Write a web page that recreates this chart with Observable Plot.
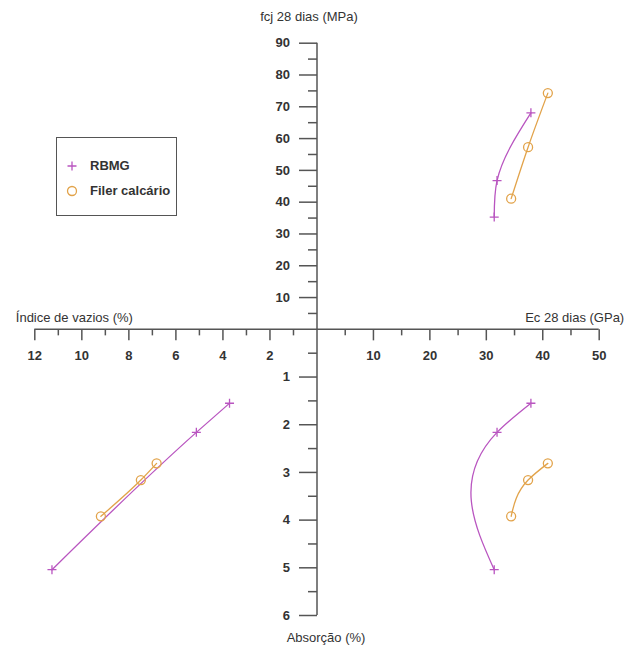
<!DOCTYPE html>
<html>
<head>
<meta charset="utf-8">
<script src="https://cdn.jsdelivr.net/npm/d3@7"></script>
<script src="https://cdn.jsdelivr.net/npm/@observablehq/plot@0.6"></script>
<style>
  html, body { margin: 0; padding: 0; background: #fff; }
  #wrap { position: relative; width: 637px; height: 645px; font-family: "Liberation Sans", Arial, sans-serif; }
  #legend { position: absolute; left: 56px; top: 137px; width: 119px; height: 77px; border: 1.5px solid #555; background: #fff; }
  .item { position: absolute; left: 0; font-size: 13px; color: #333; }
  .item svg { position: absolute; left: 9px; top: -6px; }
  .item span { position: absolute; left: 33px; top: -8px; white-space: nowrap; }
</style>
</head>
<body>
<div id="wrap"></div>
<script>
// ---- data ----
const series = ["RBMG", "Filer calcário"];
const colors = ["#b955c0", "#e2a34a"];

// RBMG
const ecRBMG  = [37.9, 31.9, 31.4];   // Ec 28 dias (GPa)
const fcjRBMG = [68.1, 46.8, 35.3];   // fcj 28 dias (MPa)
const absRBMG = [1.55, 2.16, 5.04];   // Absorção (%)
const ivRBMG  = [3.72, 5.13, 11.27];  // Índice de vazios (%)

// Filer calcário
const ecFiler  = [40.9, 37.4, 34.4];
const fcjFiler = [74.3, 57.3, 41.1];
const absFiler = [2.81, 3.16, 3.92];
const ivFiler  = [6.82, 7.49, 9.19];

// axes
const ivTicks  = [1, 2, 3, 4, 5, 6, 7, 8, 9, 10, 11, 12];
const ivLabels = [2, 4, 6, 8, 10, 12];
const ecTicks  = [5, 10, 15, 20, 25, 30, 35, 40, 45, 50];
const ecLabels = [10, 20, 30, 40, 50];
const fcjTicks = [5, 10, 15, 20, 25, 30, 35, 40, 45, 50, 55, 60, 65, 70, 75, 80, 85, 90];
const fcjLabels = [10, 20, 30, 40, 50, 60, 70, 80, 90];
const absTicks = [0.5, 1, 1.5, 2, 2.5, 3, 3.5, 4, 4.5, 5, 5.5, 6];
const absLabels = [1, 2, 3, 4, 5, 6];

// ---- quadrant mapping (each half-axis spans the same length) ----
const ecMax = 50, ivMax = 12, fcjMax = 90, absMax = 6;
const L = (v) => -v * ecMax / ivMax;     // left: índice de vazios
const R = (v) => v;                       // right: Ec
const T = (v) => v;                       // top: fcj
const B = (v) => -v * fcjMax / absMax;    // bottom: absorção

const sets = [
  {s: series[0], ec: ecRBMG, fcj: fcjRBMG, abs: absRBMG, iv: ivRBMG},
  {s: series[1], ec: ecFiler, fcj: fcjFiler, abs: absFiler, iv: ivFiler}
];
const rows = [];
for (const d of sets) {
  d.ec.forEach((_, i) => {
    rows.push({series: d.s, quad: "tr", x: R(d.ec[i]), y: T(d.fcj[i])});
    rows.push({series: d.s, quad: "br", x: R(d.ec[i]), y: B(d.abs[i])});
    rows.push({series: d.s, quad: "bl", x: L(d.iv[i]), y: B(d.abs[i])});
  });
}

// ---- custom curve: natural cubic spline of x as a function of y ----
function NaturalY(context) { this._context = context; }
NaturalY.prototype = {
  areaStart() { this._line = 0; },
  areaEnd() { this._line = NaN; },
  lineStart() { this._p = []; },
  point(x, y) { this._p.push([+x, +y]); },
  lineEnd() {
    const c = this._context;
    const p = this._p.slice().sort((a, b) => a[1] - b[1]);
    const n = p.length;
    if (!n) return;
    c.moveTo(p[0][0], p[0][1]);
    if (n === 1) return;
    if (n === 2) { c.lineTo(p[1][0], p[1][1]); return; }
    const X = p.map(d => d[0]), Y = p.map(d => d[1]);
    const h = [];
    for (let i = 0; i < n - 1; i++) h.push(Y[i + 1] - Y[i]);
    const M = new Array(n).fill(0);
    // Thomas algorithm for interior second derivatives
    const a = [], b = [], cc = [], r = [];
    for (let i = 1; i < n - 1; i++) {
      a.push(h[i - 1]); b.push(2 * (h[i - 1] + h[i])); cc.push(h[i]);
      r.push(6 * ((X[i + 1] - X[i]) / h[i] - (X[i] - X[i - 1]) / h[i - 1]));
    }
    const m = b.length;
    for (let i = 1; i < m; i++) {
      const w = a[i] / b[i - 1];
      b[i] -= w * cc[i - 1];
      r[i] -= w * r[i - 1];
    }
    const sol = new Array(m);
    sol[m - 1] = r[m - 1] / b[m - 1];
    for (let i = m - 2; i >= 0; i--) sol[i] = (r[i] - cc[i] * sol[i + 1]) / b[i];
    for (let i = 0; i < m; i++) M[i + 1] = sol[i];
    for (let i = 0; i < n - 1; i++) {
      const hi = h[i], s = (X[i + 1] - X[i]) / hi;
      const d0 = s - hi * (2 * M[i] + M[i + 1]) / 6;
      const d1 = s + hi * (M[i] + 2 * M[i + 1]) / 6;
      c.bezierCurveTo(X[i] + d0 * hi / 3, Y[i] + hi / 3,
                      X[i + 1] - d1 * hi / 3, Y[i + 1] - hi / 3,
                      X[i + 1], Y[i + 1]);
    }
  }
};
const curveNaturalY = (context) => new NaturalY(context);

// ---- custom symbols ----
const tickDown = (len) => ({draw(c) { c.moveTo(0, 0); c.lineTo(0, len); }});
const tickLeft = (len) => ({draw(c) { c.moveTo(0, 0); c.lineTo(-len, 0); }});
const plusSym = {draw(c) { c.moveTo(-4.5, 0); c.lineTo(4.5, 0); c.moveTo(0, -4.5); c.lineTo(0, 4.5); }};

const axisColor = "#555";
const textColor = "#333";

const hTicks = [
  ...ivTicks.map(v => ({x: L(v), major: v % 2 === 0})),
  ...ecTicks.map(v => ({x: R(v), major: v % 10 === 0}))
];
const vTicks = [
  ...fcjTicks.map(v => ({y: T(v), major: v % 10 === 0})),
  ...absTicks.map(v => ({y: B(v), major: Number.isInteger(v)}))
];
const hLabels = [
  ...ivLabels.map(v => ({x: L(v), t: String(v)})),
  ...ecLabels.map(v => ({x: R(v), t: String(v)}))
];
const vLabels = [
  ...fcjLabels.map(v => ({y: T(v), t: String(v)})),
  ...absLabels.map(v => ({y: B(v), t: String(v)}))
];

const lineGroups = [];
for (const s of series) for (const q of ["tr", "br", "bl"]) lineGroups.push(rows.filter(d => d.series === s && d.quad === q));

const chart = Plot.plot({
  width: 637,
  height: 645,
  marginLeft: 34.3,
  marginRight: 38.3,
  marginTop: 42.7,
  marginBottom: 30,
  style: {fontFamily: "'Liberation Sans', Arial, sans-serif", fontSize: "13px", background: "#fff"},
  x: {domain: [L(ivMax), R(ecMax)], axis: null},
  y: {domain: [B(absMax), T(fcjMax)], axis: null},
  color: {domain: series, range: colors},
  marks: [
    Plot.ruleY([0], {x1: L(ivMax), x2: R(ecMax), stroke: axisColor, strokeWidth: 1.5}),
    Plot.ruleX([0], {y1: B(absMax), y2: T(fcjMax), stroke: axisColor, strokeWidth: 1.5}),
    Plot.dot(hTicks.filter(d => d.major), {x: "x", y: 0, symbol: tickDown(11), stroke: axisColor, strokeWidth: 1.5, fill: "none"}),
    Plot.dot(hTicks.filter(d => !d.major), {x: "x", y: 0, symbol: tickDown(6), stroke: axisColor, strokeWidth: 1.5, fill: "none"}),
    Plot.dot(vTicks.filter(d => d.major), {x: 0, y: "y", symbol: tickLeft(18), stroke: axisColor, strokeWidth: 1.5, fill: "none"}),
    Plot.dot(vTicks.filter(d => !d.major), {x: 0, y: "y", symbol: tickLeft(9), stroke: axisColor, strokeWidth: 1.5, fill: "none"}),
    Plot.text(hLabels, {x: "x", y: 0, text: "t", dy: 26, fill: textColor, fontWeight: "bold"}),
    Plot.text(vLabels, {x: 0, y: "y", text: "t", dx: -27, textAnchor: "end", fill: textColor, fontWeight: "bold"}),
    Plot.text(["fcj 28 dias (MPa)"], {x: 0, y: T(fcjMax), text: d => d, dy: -26, dx: -8, fill: textColor}),
    Plot.text(["Índice de vazios (%)"], {x: L(ivMax), y: 0, text: d => d, dy: -12, dx: -19, textAnchor: "start", fill: textColor}),
    Plot.text(["Ec 28 dias (GPa)"], {x: R(ecMax), y: 0, text: d => d, dy: -12, dx: 25, textAnchor: "end", fill: textColor}),
    Plot.text(["Absorção (%)"], {x: 0, y: B(absMax), text: d => d, dy: 22, dx: 9, fill: textColor}),
    ...lineGroups.map(g => Plot.line(g, {x: "x", y: "y", stroke: "series", strokeWidth: 1.3, curve: curveNaturalY})),
    Plot.dot(rows.filter(d => d.series === series[0]), {x: "x", y: "y", stroke: "series", symbol: plusSym, strokeWidth: 1.3, fill: "none"}),
    Plot.dot(rows.filter(d => d.series === series[1]), {x: "x", y: "y", stroke: "series", symbol: "circle", r: 4.5, strokeWidth: 1.3, fill: "none"})
  ]
});

const wrap = document.getElementById("wrap");
wrap.appendChild(chart);

// legend
const legend = document.createElement("div");
legend.id = "legend";
const tops = [28, 53];
series.forEach((s, i) => {
  const it = document.createElement("div");
  it.className = "item";
  it.style.top = tops[i] + "px";
  const sym = i === 0
    ? `<svg width="12" height="12"><path d="M1.5,6H10.5M6,1.5V10.5" stroke="${colors[i]}" stroke-width="1.3" fill="none"/></svg>`
    : `<svg width="12" height="12"><circle cx="6" cy="6" r="4.5" stroke="${colors[i]}" stroke-width="1.3" fill="none"/></svg>`;
  it.innerHTML = sym + `<span style="font-weight:bold">${s}</span>`;
  legend.appendChild(it);
});
wrap.appendChild(legend);
</script>
</body>
</html>
